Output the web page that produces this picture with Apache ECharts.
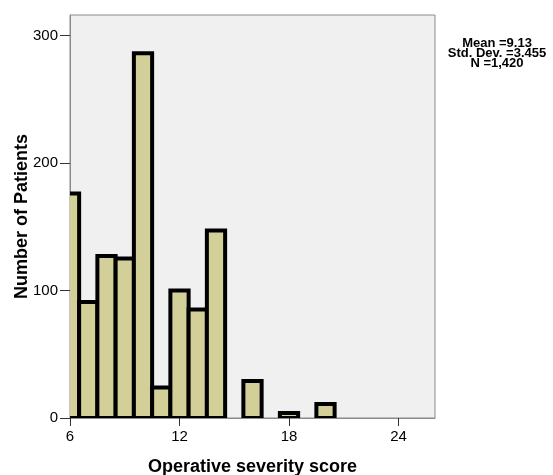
<!DOCTYPE html>
<html>
<head>
<meta charset="utf-8">
<script src="https://cdn.jsdelivr.net/npm/echarts@6/dist/echarts.min.js"></script>
<style>
  html, body { margin: 0; padding: 0; background: #fff; }
  #chart { width: 553px; height: 475px; }
</style>
</head>
<body>
<div id="chart"></div>
<script>
// histogram bins (score centred bins of width 1) and counts
var binStart = [5.5, 6.5, 7.5, 8.5, 9.5, 10.5, 11.5, 12.5, 13.5, 15.5, 17.5, 19.5];
var binEnd   = [6.5, 7.5, 8.5, 9.5, 10.5, 11.5, 12.5, 13.5, 14.5, 16.5, 18.5, 20.5];
var counts   = [176, 91, 127, 125, 286, 24, 100, 85, 147, 29, 4, 11];
var xTicks = [6, 12, 18, 24];
var yTicks = [0, 100, 200, 300];
var statLines = ['Mean =9.13', 'Std. Dev. =3.455', 'N =1,420'];

var data = binStart.map(function (s, i) { return [s, binEnd[i], counts[i]]; });

var chart = echarts.init(document.getElementById('chart'));

chart.setOption({
  animation: false,
  textStyle: { fontFamily: 'Liberation Sans, Arial, sans-serif' },
  grid: {
    left: 70, top: 15, right: 118, bottom: 57,
    outerBoundsMode: 'none', containLabel: false,
    show: true, backgroundColor: '#f0f0f0', borderColor: '#8a8a8a', borderWidth: 1
  },
  xAxis: {
    type: 'value', min: 6, max: 26,
    name: 'Operative severity score', nameLocation: 'middle', nameGap: 40,
    nameMoveOverlap: false,
    nameTextStyle: { fontSize: 18, fontWeight: 'bold', color: '#000' },
    axisLine: { show: true, lineStyle: { color: '#8a8a8a', width: 1 } },
    axisTick: { show: true, length: 8, customValues: xTicks, lineStyle: { color: '#333' } },
    axisLabel: { fontSize: 15, color: '#000', margin: 11, customValues: xTicks },
    splitLine: { show: false }
  },
  yAxis: {
    type: 'value', min: 0, max: 316,
    name: 'Number of Patients', nameLocation: 'middle', nameGap: 39,
    nameMoveOverlap: false,
    nameTextStyle: { fontSize: 18, fontWeight: 'bold', color: '#000' },
    axisLine: { show: true, lineStyle: { color: '#8a8a8a', width: 1 } },
    axisTick: { show: true, length: 10, customValues: yTicks, lineStyle: { color: '#333' } },
    axisLabel: { fontSize: 15, color: '#000', margin: 12, customValues: yTicks },
    splitLine: { show: false }
  },
  series: [{
    type: 'custom',
    clip: true,
    data: data,
    renderItem: function (params, api) {
      var p0 = api.coord([api.value(0), 0]);
      var p1 = api.coord([api.value(1), api.value(2)]);
      return {
        type: 'rect',
        shape: { x: p0[0], y: p1[1], width: p1[0] - p0[0], height: p0[1] - p1[1] },
        style: { fill: '#d3cf98', stroke: '#000', lineWidth: 4 }
      };
    }
  }],
  graphic: statLines.map(function (t, i) {
    return {
      type: 'text', x: 497, y: 43.5 + i * 10,
      style: {
        text: t, textAlign: 'center', textVerticalAlign: 'middle',
        font: 'bold 13px "Liberation Sans", Arial, sans-serif',
        fill: '#000'
      }
    };
  })
});
</script>
</body>
</html>
